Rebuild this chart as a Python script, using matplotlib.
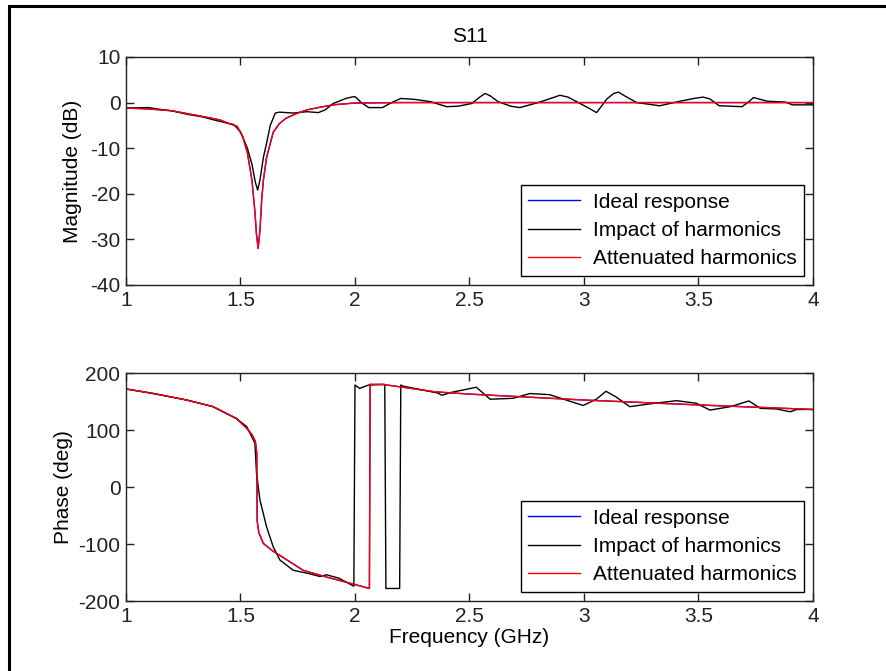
import matplotlib
matplotlib.use("Agg")
import matplotlib.pyplot as plt
from matplotlib.patches import Rectangle

plt.rcParams['font.family'] = ['Liberation Sans', 'DejaVu Sans']
plt.rcParams['font.size'] = 15
plt.rcParams['axes.unicode_minus'] = False

# Magnitude (dB) data
ideal_mag_f = [1.0, 1.1, 1.2, 1.265, 1.35, 1.41, 1.45, 1.485, 1.51, 1.53, 1.55, 1.563, 1.57,
               1.577, 1.585, 1.593, 1.6, 1.614, 1.643, 1.67, 1.70, 1.75, 1.79, 1.85, 1.905,
               1.95, 2.0, 2.2, 2.5, 3.0, 3.5, 4.0]
ideal_mag = [-1.2, -1.4, -1.8, -2.4, -3.2, -3.8, -4.6, -5.2, -7.5, -11, -17, -24, -29,
             -32, -28, -21, -17, -12, -6.5, -4.6, -3.4, -2.3, -1.6, -1.0, -0.5,
             -0.3, -0.1, 0, 0, 0, 0, 0]
atten_mag_f = ideal_mag_f
atten_mag = ideal_mag

harm_mag_f = [1.0, 1.1, 1.15, 1.2, 1.27, 1.33, 1.4, 1.45, 1.47, 1.5, 1.53, 1.55, 1.565,
              1.575, 1.585, 1.6, 1.614, 1.63, 1.652, 1.67, 1.73, 1.79, 1.84, 1.87, 1.905,
              1.96, 1.985, 2.0, 2.03, 2.06, 2.12, 2.16, 2.20, 2.26, 2.33, 2.4, 2.45, 2.51,
              2.545, 2.568, 2.59, 2.625, 2.68, 2.72, 2.80, 2.86, 2.895, 2.93, 2.968, 3.02,
              3.055, 3.10, 3.13, 3.15, 3.18, 3.23, 3.33, 3.42, 3.48, 3.52, 3.55, 3.59,
              3.69, 3.72, 3.74, 3.80, 3.88, 3.91, 4.0]
harm_mag = [-1.2, -1.1, -1.5, -1.8, -2.6, -3.1, -4.0, -4.6, -4.8, -6.4, -10, -13.5, -17.5,
            -19.2, -17, -12, -8.9, -5, -2.3, -2.1, -2.3, -2.0, -2.2, -1.6, -0.2,
            0.9, 1.2, 1.3, -0.1, -1.1, -1.1, 0, 0.9, 0.7, 0.2, -0.9, -0.8, -0.2,
            1.2, 2.0, 1.5, 0.2, -0.8, -1.1, 0, 1.0, 1.6, 1.2, 0.2, -1.2,
            -2.2, 0.8, 2.0, 2.3, 1.4, 0, -0.7, 0.3, 0.9, 1.2, 0.8, -0.7,
            -0.9, 0.2, 1.1, 0.3, 0.1, -0.5, -0.5]

# Phase (deg) data
ideal_ph_f = [1.0, 1.12, 1.265, 1.38, 1.483, 1.527, 1.55, 1.565, 1.571, 1.573, 1.58, 1.6,
              1.64, 1.672, 1.773, 1.876, 1.99, 2.063, 2.066, 2.12, 2.21, 2.35, 2.5, 3.0,
              3.5, 4.0]
ideal_ph = [172, 164, 152.6, 141, 120, 103, 92, 80, 60, -60, -80, -99,
            -112, -120, -146, -158, -170, -178, 180, 180, 175, 167, 163, 152.6,
            144, 136]
atten_ph_f = ideal_ph_f
atten_ph = ideal_ph

harm_ph_f = [1.0, 1.12, 1.265, 1.38, 1.483, 1.527, 1.563, 1.57, 1.585, 1.614, 1.643, 1.672,
             1.73, 1.80, 1.847, 1.876, 1.93, 1.995, 2.0, 2.02, 2.06, 2.13, 2.135, 2.195,
             2.20, 2.21, 2.36, 2.38, 2.42, 2.53, 2.59, 2.69, 2.764, 2.85, 2.996, 3.054,
             3.096, 3.14, 3.2, 3.29, 3.405, 3.49, 3.55, 3.64, 3.72, 3.77, 3.84, 3.90,
             3.93, 4.0]
harm_ph = [172, 164, 152.6, 141, 120, 106, 77, 24, -23, -70, -105, -128,
           -146, -152, -157, -154, -160, -174, 179, 173, 179, 180, -178, -178,
           179, 177, 165, 161, 166, 175, 154, 155.6, 164, 162, 143, 154,
           168, 158, 141, 146, 151.5, 147, 135, 141, 151, 138, 137, 132,
           136, 136]

labels = ['Ideal response', 'Impact of harmonics', 'Attenuated harmonics']

fig = plt.figure(figsize=(8.86, 6.71), dpi=100)
ax1 = fig.add_axes([0.1422, 0.5753, 0.7754, 0.3398])
ax2 = fig.add_axes([0.1422, 0.1043, 0.7754, 0.3398])

ax1.plot(ideal_mag_f, ideal_mag, color='blue', lw=1.0, label=labels[0])
ax1.plot(harm_mag_f, harm_mag, color='black', lw=1.0, label=labels[1])
ax1.plot(atten_mag_f, atten_mag, color='red', lw=1.0, label=labels[2])
ax1.set_ylim(-40, 10)
ax1.set_yticks([-40, -30, -20, -10, 0, 10])
ax1.set_ylabel('Magnitude (dB)', labelpad=6)
ax1.set_title('S11', fontsize=15, pad=11)

ax2.plot(ideal_ph_f, ideal_ph, color='blue', lw=1.0, label=labels[0])
ax2.plot(harm_ph_f, harm_ph, color='black', lw=1.0, label=labels[1])
ax2.plot(atten_ph_f, atten_ph, color='red', lw=1.0, label=labels[2])
ax2.set_ylim(-200, 200)
ax2.set_yticks([-200, -100, 0, 100, 200])
ax2.set_ylabel('Phase (deg)', labelpad=4)
ax2.set_xlabel('Frequency (GHz)', labelpad=2)

for ax in (ax1, ax2):
    ax.set_xlim(1, 4)
    ax.set_xticks([1, 1.5, 2, 2.5, 3, 3.5, 4])
    ax.set_xticklabels(['1', '1.5', '2', '2.5', '3', '3.5', '4'])
    ax.tick_params(direction='in', top=True, right=True, length=6, width=1, pad=4,
                   colors='#222222')
    for s in ax.spines.values():
        s.set_linewidth(1.0)
        s.set_color('#222222')
    leg = ax.legend(loc='lower right', fancybox=False, edgecolor='black',
                    framealpha=1, borderaxespad=0.45, handlelength=2.5,
                    handletextpad=0.6, labelspacing=0.45, borderpad=0.35)
    leg.get_frame().set_linewidth(1.0)

# outer frame around the figure
fig.patches.append(Rectangle((9 / 886, -0.05), 1.0, 1.05 - 6 / 671, transform=fig.transFigure,
                             fill=False, edgecolor='black', lw=2.2))

fig.savefig('out.png', dpi=100)
